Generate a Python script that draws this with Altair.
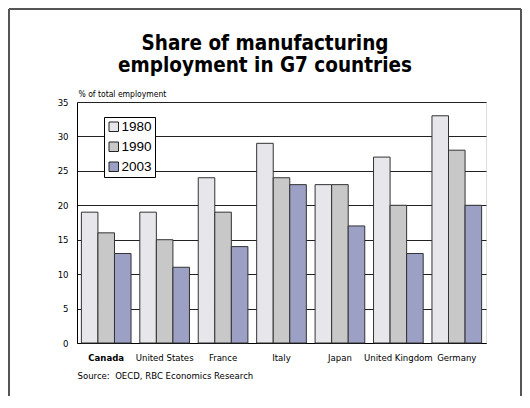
import altair as alt
import pandas as pd

countries = ["Canada", "United States", "France", "Italy", "Japan", "United Kingdom", "Germany"]
years = ["1980", "1990", "2003"]
share_1980 = [19, 19, 24, 29, 23, 27, 33]
share_1990 = [16, 15, 19, 24, 23, 20, 28]
share_2003 = [13, 11, 14, 23, 17, 13, 20]
colors = ["#E6E6EB", "#C8C8C8", "#9BA0C4"]
y_ticks = [0, 5, 10, 15, 20, 25, 30, 35]

rows = []
for yr, vals in zip(years, [share_1980, share_1990, share_2003]):
    for c, v in zip(countries, vals):
        rows.append({"country": c, "year": yr, "share": v})
df = pd.DataFrame(rows)

FONT = "DejaVu Sans Condensed"

bars = alt.Chart(df).mark_bar(stroke="#333333", strokeWidth=1).encode(
    x=alt.X("country:N", sort=countries,
            scale=alt.Scale(paddingInner=0.15, paddingOuter=0.075),
            axis=alt.Axis(labelAngle=0, ticks=False, domainColor="black", domainWidth=1,
                          labelPadding=9, labelFont=FONT, labelFontSize=9.5, labelColor="black",
                          labelFontWeight={"condition": {"test": "datum.value === 'Canada'", "value": "bold"}, "value": "normal"},
                          title="Source:\u00a0 OECD, RBC Economics Research",
                          titleFont=FONT, titleFontSize=9.5, titleFontWeight="normal", titleColor="black",
                          titleAnchor="start", titleAlign="left", titleBaseline="alphabetic",
                          titleX=0, titleY=35)),
    xOffset=alt.XOffset("year:N", sort=years, scale=alt.Scale(paddingInner=0, paddingOuter=0)),
    y=alt.Y("share:Q", scale=alt.Scale(domain=[0, 35], nice=False),
            axis=alt.Axis(values=y_ticks, grid=True, gridColor="#222222", gridWidth=1,
                          ticks=False, domainColor="black", domainWidth=1,
                          labelPadding=9, labelFont=FONT, labelFontSize=9.5, labelColor="black",
                          title="% of total employment", titleAngle=0, titleAlign="left",
                          titleAnchor="start", titleBaseline="alphabetic",
                          titleX=1, titleY=-6, titleFont=FONT, titleFontSize=8.5,
                          titleFontWeight="normal", titleColor="black")),
    color=alt.Color("year:N", sort=years, scale=alt.Scale(domain=years, range=colors),
                    legend=alt.Legend(title=None, orient="none", legendX=27, legendY=15,
                                      symbolType="square", symbolSize=90,
                                      symbolStrokeColor="#222222", symbolStrokeWidth=1,
                                      labelFont="Liberation Sans", labelFontSize=13.5,
                                      labelColor="black", labelOffset=1,
                                      rowPadding=5, padding=3,
                                      strokeColor="black", fillColor="white")),
)

frame_df = pd.DataFrame({"k": [0]})
frame_left = alt.Chart(frame_df).mark_rule(color="#555555", strokeWidth=2).encode(
    x=alt.value(-68), y=alt.value(-93), y2=alt.value(300))
frame_top = alt.Chart(frame_df).mark_rule(color="#555555", strokeWidth=2).encode(
    x=alt.value(-68), x2=alt.value(444), y=alt.value(-93))
frame_right = alt.Chart(frame_df).mark_rule(color="#555555", strokeWidth=2).encode(
    x=alt.value(444), y=alt.value(-93), y2=alt.value(300))

chart = alt.layer(bars, frame_left, frame_top, frame_right).properties(
    width=409, height=241,
    autosize="none",
    padding={"left": 69, "top": 94, "right": 36, "bottom": 53},
    title=alt.TitleParams(
        text=["Share of manufacturing", "employment in G7 countries"],
        font=FONT, fontSize=20.5, fontWeight="bold", color="black",
        anchor="middle", dx=-16.5, offset=-68, lineHeight=22,
    ),
).configure_view(stroke="#999999", strokeWidth=1).configure(background="white")

chart.save("out.html", embed_options={"renderer": "svg", "actions": False})
